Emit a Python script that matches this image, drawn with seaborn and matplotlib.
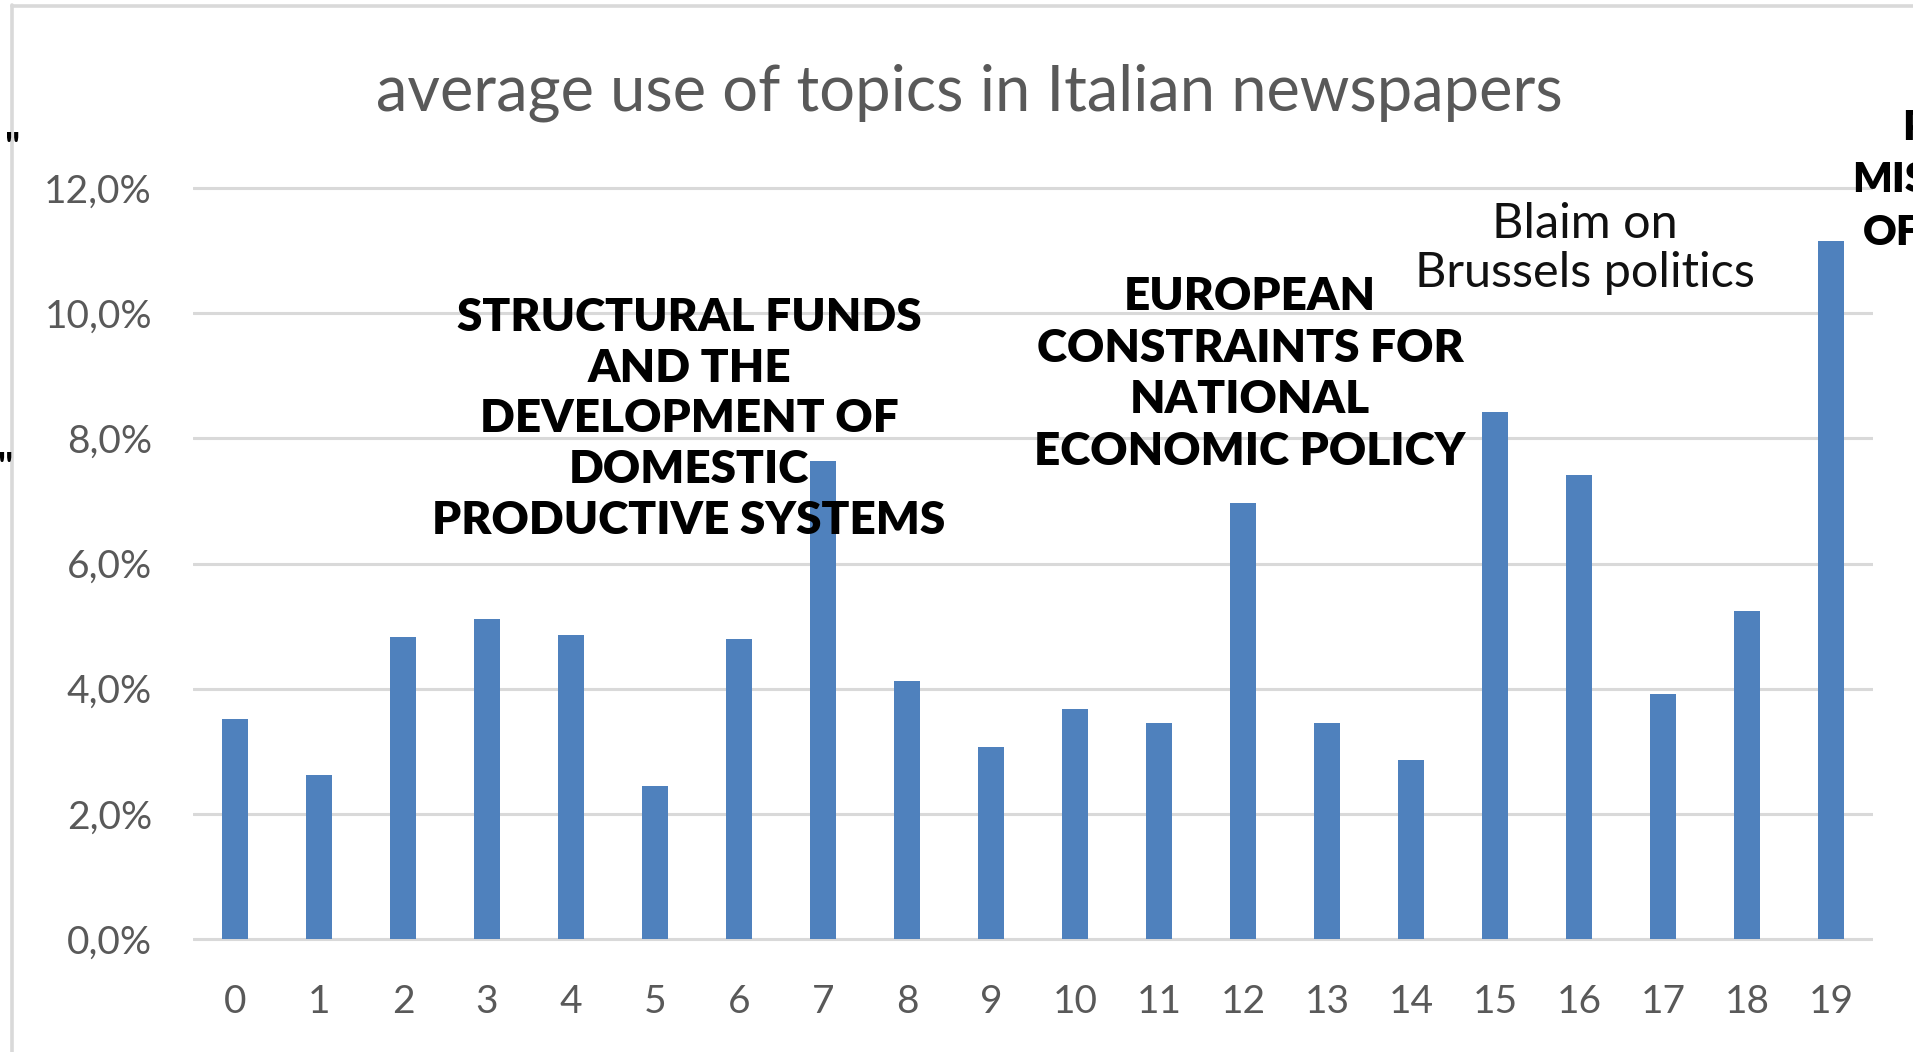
import matplotlib
matplotlib.use("Agg")
import matplotlib.pyplot as plt
from matplotlib.lines import Line2D
from matplotlib.ticker import FuncFormatter
import pandas as pd
import seaborn as sns

# ---- data -------------------------------------------------------------
topics = [str(i) for i in range(20)]
avg_use = [3.51, 2.62, 4.83, 5.11, 4.86, 2.45, 4.79, 7.63, 4.12, 3.07,
           3.68, 3.45, 6.97, 3.45, 2.86, 8.42, 7.42, 3.92, 5.24, 11.16]
y_ticks = [0, 2, 4, 6, 8, 10, 12]

title = "average use of topics in Italian newspapers"
note_structural = ["STRUCTURAL FUNDS", "AND THE", "DEVELOPMENT OF",
                   "DOMESTIC", "PRODUCTIVE SYSTEMS"]
note_constraints = ["EUROPEAN", "CONSTRAINTS FOR", "NATIONAL",
                    "ECONOMIC POLICY"]
note_brussels = ["Blaim on", "Brussels politics"]
note_edge = ["P", "MIS", "OF"]

# ---- canvas -----------------------------------------------------------
W, H, DPI = 1913, 1052, 100
BAR = "#4F81BD"
GRID = "#D9D9D9"
GREY = "#595959"

sns.set_theme(style="white")
plt.rcParams["font.family"] = ["Lato", "DejaVu Sans"]

fig = plt.figure(figsize=(W / DPI, H / DPI), dpi=DPI, facecolor="white")

# axes placed in pixel units: y=0 at 939 px, y=12 at 188 px from top
px_per_unit = (939 - 188) / 12.0
y_lo, y_hi = -0.06, 12.06
ax_bottom = 939 + (0 - y_lo) * px_per_unit
ax_top = 188 - (y_hi - 12) * px_per_unit
ax = fig.add_axes([193 / W, 1 - ax_bottom / H, (1873 - 193) / W,
                   (ax_bottom - ax_top) / H])

df = pd.DataFrame({"topic": topics, "use": avg_use})
sns.barplot(data=df, x="topic", y="use", order=topics, color=BAR,
            saturation=1, width=0.32, errorbar=None, linewidth=0, ax=ax)

ax.set_xlim(-0.5, len(topics) - 0.5)
ax.set_ylim(y_lo, y_hi)
ax.set_yticks(y_ticks)
ax.yaxis.set_major_formatter(
    FuncFormatter(lambda v, _: f"{v:.1f}".replace(".", ",") + "%"))
ax.yaxis.grid(True, color=GRID, linewidth=2.2)
ax.xaxis.grid(False)
ax.set_axisbelow(True)
for s in ax.spines.values():
    s.set_visible(False)
ax.set_xlabel("")
ax.set_ylabel("")
ax.tick_params(axis="both", length=0, labelsize=28, labelcolor=GREY)
ax.tick_params(axis="x", pad=30)
ax.tick_params(axis="y", pad=29.5)
ax.set_facecolor("white")


def px_text(x, y_base, s, **kw):
    fig.text(x / W, 1 - y_base / H, s, va="baseline", **kw)


# title
px_text(969.5, 110, title, ha="center", fontsize=45.5, color=GREY)

# annotations
for i, line in enumerate(note_structural):
    px_text(689, 331 + i * 50.75, line, ha="center", fontsize=33,
            fontweight="heavy", color="black")
for i, line in enumerate(note_constraints):
    px_text(1250, 310 + i * 51.7, line, ha="center", fontsize=33,
            fontweight="heavy", color="black")
for i, line in enumerate(note_brussels):
    px_text(1585, 238 + i * 49, line, ha="center", fontsize=35,
            fontweight="normal", color="#111111")
for (x, yb), line in zip([(1902, 140), (1852, 192), (1863, 245)], note_edge):
    px_text(x, yb, line, ha="left", fontsize=30, fontweight="heavy",
            color="black")

# fragments of neighbouring text at the left margin
fig.text(5 / W, 1 - 131 / H, '"', ha="left", va="top", fontsize=28,
         fontweight="bold", color="black")
fig.text(-2 / W, 1 - 451 / H, '"', ha="left", va="top", fontsize=28,
         fontweight="bold", color="black")

# frame lines of the chart area
fig.add_artist(Line2D([12 / W, 12 / W], [0, 1 - 5 / H], color=GRID, lw=2.6))
fig.add_artist(Line2D([12 / W, 1], [1 - 6 / H, 1 - 6 / H], color=GRID, lw=2.6))

fig.savefig("out.png", dpi=DPI, facecolor="white")
